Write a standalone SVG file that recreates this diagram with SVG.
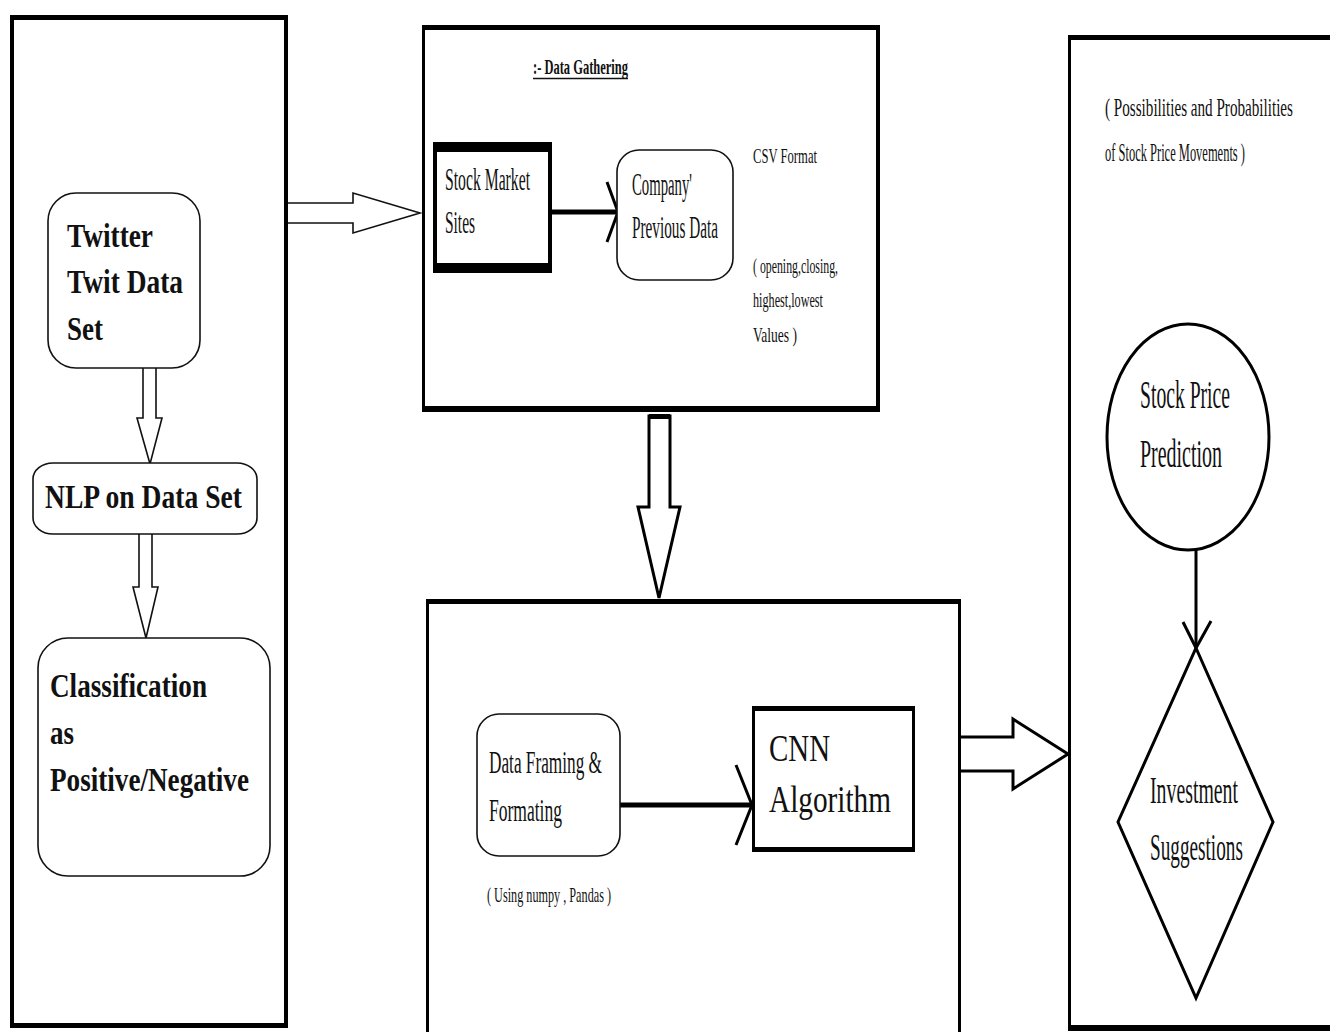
<svg xmlns="http://www.w3.org/2000/svg" width="1330" height="1032" viewBox="0 0 1330 1032">
<style>
text { font-family: "Liberation Serif", "Times New Roman", serif; fill: #111; }
.b { font-weight: bold; font-size: 33px; }
.r { font-size: 32px; }
.s { font-size: 22px; }
.frame { fill: #000; fill-rule: evenodd; }
.rbox { fill: #fff; stroke: #111; stroke-width: 1.6; }
.thin { fill: #fff; stroke: #111; stroke-width: 1.6; stroke-linejoin: miter; }
.hol { fill: #fff; stroke: #000; stroke-width: 3; stroke-linejoin: miter; }
.ln { fill: none; stroke: #000; stroke-width: 5; }
.ah { fill: none; stroke: #000; stroke-width: 3; }
.sh { fill: #fff; stroke: #000; stroke-width: 3; }
</style>
<rect width="1330" height="1032" fill="#fff"/>

<g id="lane-twitter">
  <path class="frame" d="M10,15 H288 V1028 H10 Z M14,20 V1023 H284 V20 Z"/>
</g>
<g id="lane-gathering">
  <path class="frame" d="M422,25 H880 V412 H422 Z M425,30 V406 H876 V30 Z"/>
  <text x="533" y="74" style="font-weight:bold;font-size:21px" textLength="95" lengthAdjust="spacingAndGlyphs">:- Data Gathering</text>
  <line x1="533" y1="78.5" x2="628" y2="78.5" stroke="#111" stroke-width="1.5"/>
  <text class="s" x="753" y="163" textLength="64" lengthAdjust="spacingAndGlyphs">CSV Format</text>
  <text class="s" x="753" y="273" textLength="85" lengthAdjust="spacingAndGlyphs">( opening,closing,</text>
  <text class="s" x="753" y="307" textLength="70" lengthAdjust="spacingAndGlyphs">highest,lowest</text>
  <text class="s" x="753" y="342" textLength="44" lengthAdjust="spacingAndGlyphs">Values )</text>
</g>
<g id="lane-processing">
  <path class="frame" d="M426,599 H961 V1032 H426 Z M429,604 V1032 H958 V604 Z"/>
  <text class="s" x="487" y="902" textLength="124" lengthAdjust="spacingAndGlyphs">( Using numpy , Pandas )</text>
</g>
<g id="lane-prediction">
  <path class="frame" d="M1068,35 H1330 V1031 H1068 Z M1071,40 V1025 H1330 V40 Z"/>
  <text style="font-size:26px" transform="translate(1105,116) scale(0.582,1)" x="0" y="0" textLength="323" lengthAdjust="spacingAndGlyphs">( Possibilities and Probabilities</text>
  <text style="font-size:26px" transform="translate(1105,161) scale(0.582,1)" x="0" y="0" textLength="240.5" lengthAdjust="spacingAndGlyphs">of Stock Price Movements )</text>
</g>

<g id="connectors">
  <path class="thin" d="M288,203 H353 V193 L420,213 L353,233 V223 H288"/>
  <path class="thin" d="M143,368 V418 H137 L150,464 L162,418 H156 V368"/>
  <path class="thin" d="M139,534 V587 H133 L146,638 L158,587 H152 V534"/>
  <path class="hol" d="M649,416 V507 H638 L659,598 L680,507 H670 V416 Z"/>
  <rect x="649" y="414" width="21" height="5" fill="#000"/>
  <path class="hol" d="M961,737 H1013 V719 L1068,754 L1013,789 V771 H961"/>
  <line class="ln" x1="552" y1="212" x2="617" y2="212"/>
  <polyline class="ah" points="607,182 618,212 607,242"/>
  <line class="ln" x1="620" y1="805" x2="752" y2="805"/>
  <polyline class="ah" points="736,765 752,805 736,845"/>
  <line class="ah" x1="1196" y1="550" x2="1196" y2="648"/>
  <polyline class="ah" points="1183,622 1196,648 1211,621"/>
</g>

<g id="node-twitter">
  <rect class="rbox" x="48" y="193" width="152" height="175" rx="28"/>
  <text class="b" x="67" y="247" textLength="86" lengthAdjust="spacingAndGlyphs">Twitter</text>
  <text class="b" x="67" y="293" textLength="116" lengthAdjust="spacingAndGlyphs">Twit Data</text>
  <text class="b" x="67" y="340" textLength="36" lengthAdjust="spacingAndGlyphs">Set</text>
</g>
<g id="node-nlp">
  <rect class="rbox" x="33" y="463" width="224" height="71" rx="20" ry="16"/>
  <text class="b" x="45" y="508" textLength="197" lengthAdjust="spacingAndGlyphs">NLP on Data Set</text>
</g>
<g id="node-classification">
  <rect class="rbox" x="38" y="638" width="232" height="238" rx="30"/>
  <text class="b" x="50" y="697" textLength="157" lengthAdjust="spacingAndGlyphs">Classification</text>
  <text class="b" x="50" y="744" textLength="24" lengthAdjust="spacingAndGlyphs">as</text>
  <text class="b" x="50" y="791" textLength="199" lengthAdjust="spacingAndGlyphs">Positive/Negative</text>
</g>
<g id="node-stock-sites">
  <path class="frame" d="M433,142 H552 V273 H433 Z M437,152 V263 H548 V152 Z"/>
  <text class="r" x="445" y="190" textLength="85" lengthAdjust="spacingAndGlyphs">Stock Market</text>
  <text class="r" x="445" y="233" textLength="30" lengthAdjust="spacingAndGlyphs">Sites</text>
</g>
<g id="node-company">
  <rect class="rbox" x="617" y="150" width="116" height="130" rx="22"/>
  <text class="r" x="632" y="195" textLength="60" lengthAdjust="spacingAndGlyphs">Company'</text>
  <text class="r" x="632" y="238" textLength="86" lengthAdjust="spacingAndGlyphs">Previous Data</text>
</g>
<g id="node-dataframing">
  <rect class="rbox" x="477" y="714" width="143" height="142" rx="22"/>
  <text class="r" x="489" y="773" textLength="113" lengthAdjust="spacingAndGlyphs">Data Framing &amp;</text>
  <text class="r" x="489" y="821" textLength="73" lengthAdjust="spacingAndGlyphs">Formating</text>
</g>
<g id="node-cnn">
  <path class="frame" d="M752,706 H915 V852 H752 Z M755,711 V847 H912 V711 Z"/>
  <text style="font-size:38px" x="769" y="761" textLength="61" lengthAdjust="spacingAndGlyphs">CNN</text>
  <text style="font-size:38px" x="769" y="812" textLength="122" lengthAdjust="spacingAndGlyphs">Algorithm</text>
</g>
<g id="node-prediction">
  <ellipse class="sh" cx="1188" cy="437" rx="81" ry="113"/>
  <text style="font-size:40px" x="1140" y="408" textLength="90" lengthAdjust="spacingAndGlyphs">Stock Price</text>
  <text style="font-size:40px" x="1140" y="467" textLength="82" lengthAdjust="spacingAndGlyphs">Prediction</text>
</g>
<g id="node-investment">
  <polygon class="sh" points="1196,648 1273,822 1196,998 1118,822"/>
  <text style="font-size:38px" x="1150" y="803" textLength="88" lengthAdjust="spacingAndGlyphs">Investment</text>
  <text style="font-size:38px" transform="translate(1150,860) scale(0.505,1)" x="0" y="0" textLength="184" lengthAdjust="spacingAndGlyphs">Suggestions</text>
</g>
</svg>
